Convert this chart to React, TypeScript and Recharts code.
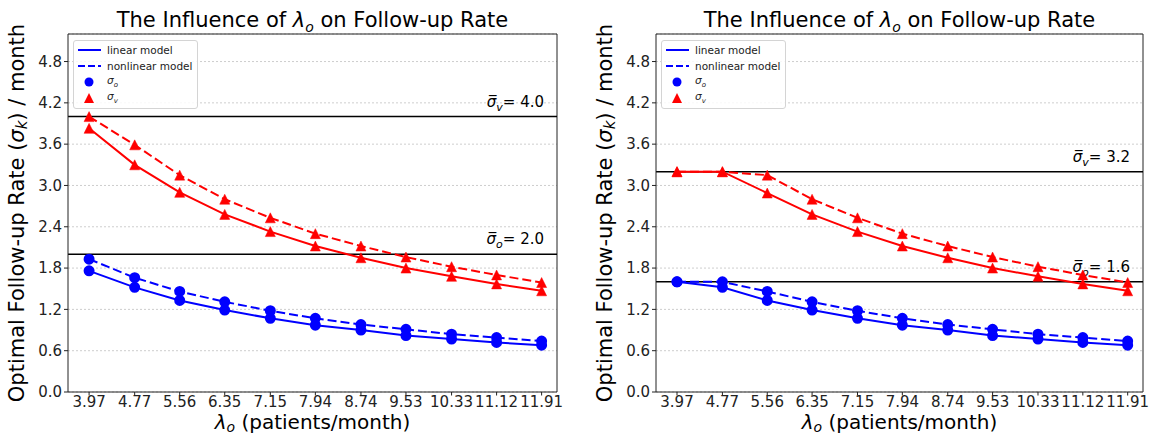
import React from "react";
import {
  LineChart,
  Line,
  XAxis,
  YAxis,
  CartesianGrid,
  ReferenceLine,
  Legend,
  Label,
} from "recharts";

const FONT = "'DejaVu Sans', sans-serif";
const BLUE = "#0000ff";
const RED = "#ff0000";

// lambda_o values (x axis)
const lambdaO = [3.97, 4.77, 5.56, 6.35, 7.15, 7.94, 8.74, 9.53, 10.33, 11.12, 11.91];
const yTicks = [0, 0.6, 1.2, 1.8, 2.4, 3.0, 3.6, 4.2, 4.8];

// left panel
const sigmaVLinearA = [3.83, 3.3, 2.9, 2.58, 2.33, 2.12, 1.95, 1.8, 1.68, 1.57, 1.47];
const sigmaVNonlinearA = [4.0, 3.59, 3.15, 2.8, 2.53, 2.3, 2.12, 1.96, 1.82, 1.7, 1.59];
const sigmaOLinearA = [1.76, 1.52, 1.33, 1.19, 1.07, 0.97, 0.9, 0.82, 0.77, 0.72, 0.68];
const sigmaONonlinearA = [1.93, 1.66, 1.46, 1.31, 1.18, 1.07, 0.98, 0.91, 0.84, 0.79, 0.74];
const capsA = { v: 4.0, o: 2.0 };

// right panel
const sigmaVLinearB = [3.2, 3.2, 2.89, 2.58, 2.33, 2.12, 1.95, 1.8, 1.68, 1.57, 1.47];
const sigmaVNonlinearB = [3.2, 3.2, 3.15, 2.8, 2.53, 2.3, 2.12, 1.96, 1.82, 1.7, 1.59];
const sigmaOLinearB = [1.6, 1.52, 1.33, 1.19, 1.07, 0.97, 0.9, 0.82, 0.77, 0.72, 0.68];
const sigmaONonlinearB = [1.6, 1.6, 1.46, 1.31, 1.18, 1.07, 0.98, 0.91, 0.84, 0.79, 0.74];
const capsB = { v: 3.2, o: 1.6 };

const xDomain = [3.6, 12.18];
const yDomain = [0, 5.2];

const toRows = (vLin: number[], vNon: number[], oLin: number[], oNon: number[]) =>
  lambdaO.map((x, i) => ({ x, vLin: vLin[i], vNon: vNon[i], oLin: oLin[i], oNon: oNon[i] }));

const rowsA = toRows(sigmaVLinearA, sigmaVNonlinearA, sigmaOLinearA, sigmaONonlinearA);
const rowsB = toRows(sigmaVLinearB, sigmaVNonlinearB, sigmaOLinearB, sigmaONonlinearB);

const Triangle = (props: any) => {
  const { cx, cy, index } = props;
  if (cx == null || cy == null) return <g key={index} />;
  const s = 5;
  return (
    <polygon
      key={index}
      points={`${cx},${cy - s} ${cx - s},${cy + s} ${cx + s},${cy + s}`}
      fill={RED}
      stroke={RED}
      strokeWidth={0.5}
    />
  );
};

// title sits above the top frame line
const titleLabel = ({ viewBox }: any) => {
  const cx = viewBox.x + viewBox.width / 2;
  return (
    <text x={cx} y={27} textAnchor="middle" fontSize={21} fontFamily={FONT} fill="#000">
      The Influence of <tspan fontStyle="italic">λ</tspan>
      <tspan fontStyle="italic" fontSize={14} dy={5}>o</tspan>
      <tspan dy={-5}> on Follow-up Rate</tspan>
    </text>
  );
};

const xLabel = ({ viewBox }: any) => {
  const cx = viewBox.x + viewBox.width / 2;
  return (
    <text x={cx} y={429} textAnchor="middle" fontSize={20} fontFamily={FONT} fill="#000">
      <tspan fontStyle="italic">λ</tspan>
      <tspan fontStyle="italic" fontSize={14} dy={3}>o</tspan>
      <tspan dy={-3}> (patients/month)</tspan>
    </text>
  );
};

const yLabel = ({ viewBox }: any) => {
  const x = viewBox.x + viewBox.width - 51;
  const cy = viewBox.y + viewBox.height / 2;
  return (
    <text
      x={x}
      y={cy}
      transform={`rotate(-90 ${x} ${cy})`}
      textAnchor="middle"
      dominantBaseline="central"
      fontSize={21}
      fontFamily={FONT}
      fill="#000"
    >
      Optimal Follow-up Rate (<tspan fontStyle="italic">σ</tspan>
      <tspan fontStyle="italic" fontSize={15} dy={5}>k</tspan>
      <tspan dy={-5}>) / month</tspan>
    </text>
  );
};

const capLabel = (sub: string, value: number) => ({ viewBox }: any) => (
  <text
    x={viewBox.x + viewBox.width - 13}
    y={viewBox.y - 10}
    textAnchor="end"
    fontSize={15}
    fontFamily={FONT}
    fill="#000"
  >
    <tspan fontStyle="italic">{"σ\u0305"}</tspan>
    <tspan fontStyle="italic" fontSize={11} dy={4}>{sub}</tspan>
    <tspan dy={-4}>= {value.toFixed(1)}</tspan>
  </text>
);

const legendItems = [
  { kind: "solid", label: "linear model" },
  { kind: "dashed", label: "nonlinear model" },
  { kind: "circle", label: "o" },
  { kind: "triangle", label: "v" },
];

const renderLegend = () => (
  <div
    style={{
      width: 117,
      background: "rgba(255,255,255,0.85)",
      border: "1px solid #d4d4d4",
      borderRadius: 3,
      padding: "1px 3px 2px 3px",
      fontFamily: FONT,
      fontSize: 10.5,
      color: "#222",
      whiteSpace: "nowrap",
    }}
  >
    {legendItems.map((it) => (
      <div key={it.kind} style={{ display: "flex", alignItems: "center", height: 16 }}>
        <svg width={24} height={12} style={{ marginRight: 6, flex: "none" }}>
          {it.kind === "solid" && <line x1={1} x2={24} y1={6} y2={6} stroke={BLUE} strokeWidth={2} />}
          {it.kind === "dashed" && (
            <line x1={1} x2={24} y1={6} y2={6} stroke={BLUE} strokeWidth={2} strokeDasharray="7 3" />
          )}
          {it.kind === "circle" && <circle cx={12} cy={6} r={4.5} fill={BLUE} />}
          {it.kind === "triangle" && <polygon points="12,1 7,11 17,11" fill={RED} />}
        </svg>
        {it.kind === "circle" || it.kind === "triangle" ? (
          <span style={{ fontStyle: "italic" }}>
            σ<sub style={{ fontSize: 7 }}>{it.label}</sub>
          </span>
        ) : (
          <span>{it.label}</span>
        )}
      </div>
    ))}
  </div>
);

interface PanelProps {
  rows: any[];
  caps: { v: number; o: number };
  width: number;
  yAxisWidth: number;
  marginRight: number;
}

function FollowUpPanel({ rows, caps, width, yAxisWidth, marginRight }: PanelProps) {
  const tickStyle = { fontSize: 15, fill: "#222", fontFamily: FONT };
  return (
    <LineChart
      width={width}
      height={436}
      data={rows}
      margin={{ top: 34, right: marginRight, bottom: 0, left: 0 }}
    >
      <CartesianGrid vertical={false} stroke="#b8b8b8" strokeDasharray="2 2" strokeWidth={0.7} />
      <XAxis
        dataKey="x"
        type="number"
        domain={xDomain}
        ticks={lambdaO}
        interval={0}
        allowDataOverflow
        tickFormatter={(v: number) => v.toFixed(2)}
        tick={tickStyle}
        tickSize={3.5}
        tickMargin={1}
        tickLine={{ stroke: "#222" }}
        axisLine={{ stroke: "#222" }}
        height={44}
      >
        <Label content={xLabel} />
      </XAxis>
      <YAxis
        type="number"
        domain={yDomain}
        ticks={yTicks}
        interval={0}
        allowDataOverflow
        tickFormatter={(v: number) => v.toFixed(1)}
        tick={tickStyle}
        tickSize={4}
        tickLine={{ stroke: "#222" }}
        axisLine={{ stroke: "#222" }}
        width={yAxisWidth}
      >
        <Label content={yLabel} />
      </YAxis>
      {/* frame: top and right spines */}
      <ReferenceLine y={yDomain[1]} stroke="#222" strokeWidth={1} label={titleLabel} />
      <ReferenceLine x={xDomain[1]} stroke="#222" strokeWidth={1} />
      <ReferenceLine y={caps.v} stroke="#000" strokeWidth={1.5} label={capLabel("v", caps.v)} />
      <ReferenceLine y={caps.o} stroke="#000" strokeWidth={1.5} label={capLabel("o", caps.o)} />
      <Line
        dataKey="oLin"
        stroke={BLUE}
        strokeWidth={2}
        dot={{ r: 4.5, fill: BLUE, stroke: BLUE }}
        isAnimationActive={false}
      />
      <Line
        dataKey="oNon"
        stroke={BLUE}
        strokeWidth={2}
        strokeDasharray="9 4"
        dot={{ r: 4.5, fill: BLUE, stroke: BLUE, strokeDasharray: "0" }}
        isAnimationActive={false}
      />
      <Line dataKey="vLin" stroke={RED} strokeWidth={2} dot={Triangle} isAnimationActive={false} />
      <Line
        dataKey="vNon"
        stroke={RED}
        strokeWidth={2}
        strokeDasharray="9 4"
        dot={Triangle}
        isAnimationActive={false}
      />
      <Legend
        layout="vertical"
        align="center"
        verticalAlign="middle"
        wrapperStyle={{ left: yAxisWidth + 5, top: 40, width: "auto" }}
        content={renderLegend}
      />
    </LineChart>
  );
}

export default function App() {
  return (
    <div
      style={{
        position: "absolute",
        left: 0,
        top: 0,
        width: 1149,
        height: 436,
        display: "flex",
        background: "#fff",
      }}
    >
      <FollowUpPanel rows={rowsA} caps={capsA} width={575} yAxisWidth={68} marginRight={18} />
      <FollowUpPanel rows={rowsB} caps={capsB} width={574} yAxisWidth={81} marginRight={6} />
    </div>
  );
}
